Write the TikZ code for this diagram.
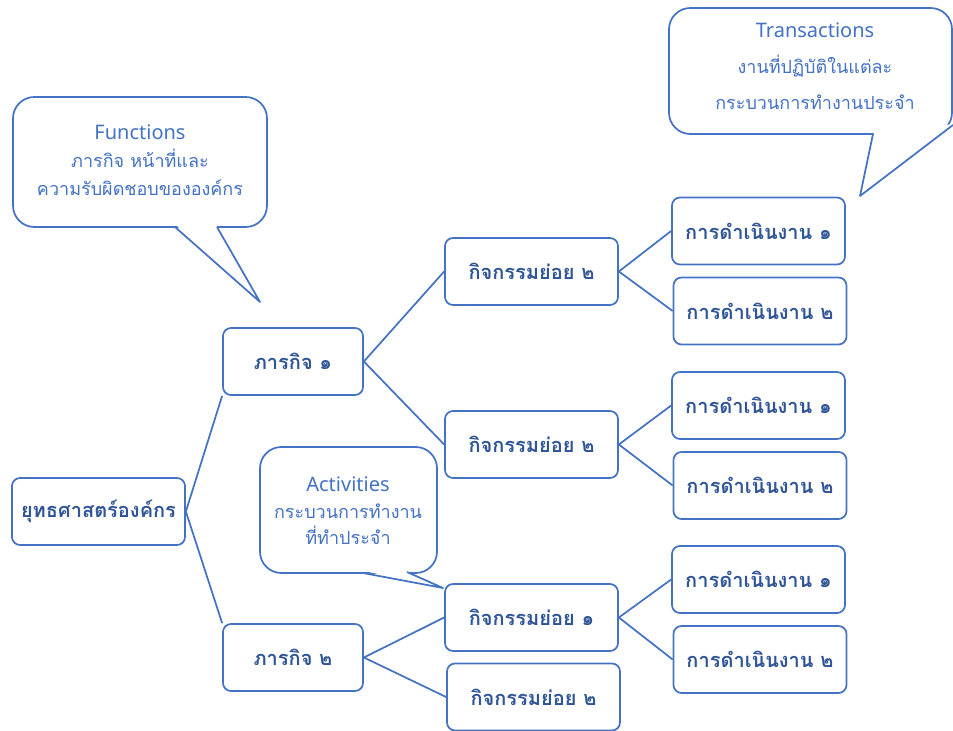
\documentclass[tikz,border=0pt]{standalone}
\usepackage{fontspec}
\setmainfont{Noto Sans}
\newfontfamily\uifont{Noto Sans}
\newfontfamily\thaifont[Script=Thai]{Loma}
\usetikzlibrary{positioning}
\definecolor{lineblue}{RGB}{68,114,196}
\definecolor{boxtext}{RGB}{47,85,151}

\begin{document}
\begin{tikzpicture}[x=0.75pt, y=-0.75pt,
        every node/.style={font=\thaifont\fontsize{13.5}{21}\selectfont},
        box/.style={draw=lineblue, line width=1.3pt, rounded corners=6pt, text=boxtext, minimum width=129.75pt, minimum height=50.25pt, font=\thaifont\bfseries\fontsize{15}{18}\selectfont},
        mission/.style={box, minimum width=105pt},
        link/.style={draw=lineblue, line width=1.3pt},
        bubble/.style={draw=lineblue, line width=1.3pt, fill=white, rounded corners=16pt},
        note/.style={text=lineblue, align=center}
    ]
    \useasboundingbox (0,0) rectangle (953,731);

    % Callouts
    \draw[bubble] (13,97) rectangle (267,227);
    \fill[white] (176,225) -- (260,302) -- (216,225) -- cycle;
    \draw[link, line join=round] (175,227) -- (260,302) -- (217,227);
    \node[note] (functions) at (140,160) {{\uifont\fontsize{15}{21}\selectfont Functions}\\ภารกิจ หน้าที่และ\\ความรับผิดชอบขององค์กร};

    \draw[bubble] (669,8) rectangle (952,134);
    \fill[white] (874,132) -- (860,196) -- (955,124) -- cycle;
    \draw[link, line join=round] (873,134) -- (860,196) -- (953,125);
    \node[note, font=\thaifont\fontsize{13.5}{27}\selectfont] (transactions) at (815,66) {{\uifont\fontsize{15}{27}\selectfont Transactions}\\งานที่ปฏิบัติในแต่ละ\\กระบวนการทำงานประจำ};

    \draw[bubble] (260,447) rectangle (437,573);
    \fill[white] (364,571) -- (443,588) -- (406,571) -- cycle;
    \draw[link, line join=round] (363,573) -- (443,588) -- (407,572);
    \node[note, font=\thaifont\fontsize{13.5}{20}\selectfont] (activities) at (348,511) {{\uifont\fontsize{15}{20}\selectfont Activities}\\กระบวนการทำงาน\\ที่ทำประจำ};

    % Nodes
    \node[box] (strategy) at (98.5,511.5) {ยุทธศาสตร์องค์กร};
    \node[mission] (missionA) at (293,361.5) {ภารกิจ ๑};
    \node[mission] (missionB) at (293,657.5) {ภารกิจ ๒};

    \node[box] (actA) at (531.5,271.5) {กิจกรรมย่อย ๒};
    \node[box] (actB) at (531.5,444.5) {กิจกรรมย่อย ๒};
    \node[box] (actC) at (531.5,617.5) {กิจกรรมย่อย ๑};
    \node[box] (actD) at (533.5,697) {กิจกรรมย่อย ๒};

    \node[box] (taskA1) at (758.5,231) {การดำเนินงาน ๑};
    \node[box] (taskA2) at (760,311) {การดำเนินงาน ๒};
    \node[box] (taskB1) at (758.5,405.5) {การดำเนินงาน ๑};
    \node[box] (taskB2) at (760,485.5) {การดำเนินงาน ๒};
    \node[box] (taskC1) at (758.5,579.5) {การดำเนินงาน ๑};
    \node[box] (taskC2) at (760,659.5) {การดำเนินงาน ๒};

    % Lines
    \draw[link] (strategy.east) -- (missionA.south west);
    \draw[link] (strategy.east) -- (missionB.north west);
    \draw[link] (missionA.east) -- (actA.west);
    \draw[link] (missionA.east) -- (actB.west);
    \draw[link] (missionB.east) -- (actC.west);
    \draw[link] (missionB.east) -- (actD.west);
    \draw[link] (actA.east) -- (taskA1.west);
    \draw[link] (actA.east) -- (taskA2.west);
    \draw[link] (actB.east) -- (taskB1.west);
    \draw[link] (actB.east) -- (taskB2.west);
    \draw[link] (actC.east) -- (taskC1.west);
    \draw[link] (actC.east) -- (taskC2.west);

\end{tikzpicture}
\end{document}
